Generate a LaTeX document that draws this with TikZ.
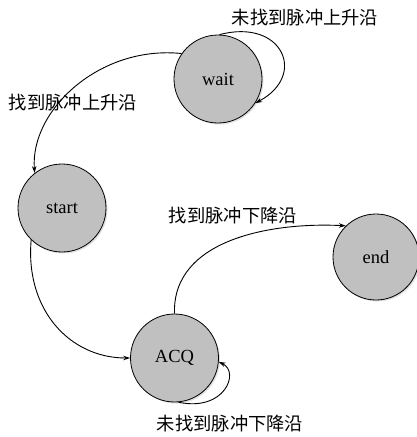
\documentclass[tikz,border=0pt]{standalone}
\usepackage{fontspec}
\setmainfont{Liberation Serif}
\newfontfamily\cjk{Noto Sans CJK SC}
\usetikzlibrary{arrows.meta,shadows}
\tikzset{
  state/.style={circle,draw=black,line width=0.8pt,fill={rgb,255:red,192;green,192;blue,192},minimum size=88pt,inner sep=0pt,font=\fontsize{18.5}{21}\selectfont,drop shadow={shadow xshift=1.5pt,shadow yshift=-1.5pt,opacity=0.25}},
  edge/.style={line width=0.9pt,-{Stealth[length=7pt,width=4.5pt]}},
  lbl/.style={font=\cjk\fontsize{18.3}{21}\selectfont,inner sep=0pt}
}
\begin{document}
\begin{tikzpicture}[x=1pt,y=-1pt]
\useasboundingbox (0,0) rectangle (417,437);
\node[state] (wait) at (218,79) {wait};
\node[state] (start) at (62,208) {start};
\node[state] (acq) at (174.5,358) {ACQ};
\node[state,minimum size=86pt] (end) at (376,257) {end};
\draw[edge] (wait.145) .. controls (100,45) and (30,110) .. (start.128);
\draw[edge] (wait.88) .. controls (282,18) and (308,75) .. (wait.-33);
\draw[edge] (start.226) .. controls (25,310) and (70,358) .. (acq.180);
\draw[edge] (acq.90) .. controls (172,240) and (270,222) .. (end.134);
\draw[edge] (acq.-85) .. controls (225,412) and (240,372) .. (acq.-5);
\node[lbl] (l1) at (305,18) {未找到脉冲上升沿};
\node[lbl] (l2) at (73,103) {找到脉冲上升沿};
\node[lbl] (l3) at (233,216) {找到脉冲下降沿};
\node[lbl] (l4) at (230,424) {未找到脉冲下降沿};
\end{tikzpicture}
\end{document}
